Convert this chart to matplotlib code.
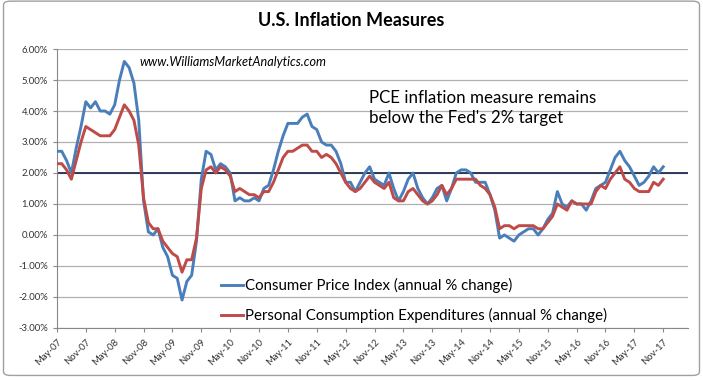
import pandas as pd
import matplotlib.pyplot as plt
from matplotlib.patches import FancyBboxPatch

plt.rcParams['font.family'] = ['Lato', 'DejaVu Sans']

# monthly year-over-year changes, May-07 .. Nov-17
cpi = [2.7, 2.7, 2.4, 2.0, 2.8, 3.5, 4.3, 4.1,
       4.3, 4.0, 4.0, 3.9, 4.2, 5.0, 5.6, 5.4, 4.9, 3.7, 1.1, 0.1,
       0.0, 0.2, -0.4, -0.7, -1.3, -1.4, -2.1, -1.5, -1.3, -0.2, 1.8, 2.7,
       2.6, 2.1, 2.3, 2.2, 2.0, 1.1, 1.2, 1.1, 1.1, 1.2, 1.1, 1.5,
       1.6, 2.1, 2.7, 3.2, 3.6, 3.6, 3.6, 3.8, 3.9, 3.5, 3.4, 3.0,
       2.9, 2.9, 2.7, 2.3, 1.7, 1.7, 1.4, 1.7, 2.0, 2.2, 1.8, 1.7,
       1.6, 2.0, 1.5, 1.1, 1.4, 1.8, 2.0, 1.5, 1.2, 1.0, 1.2, 1.5,
       1.6, 1.1, 1.5, 2.0, 2.1, 2.1, 2.0, 1.7, 1.7, 1.7, 1.3, 0.8,
       -0.1, 0.0, -0.1, -0.2, 0.0, 0.1, 0.2, 0.2, 0.0, 0.2, 0.5, 0.7,
       1.4, 1.0, 0.9, 1.1, 1.0, 1.0, 0.8, 1.1, 1.5, 1.6, 1.7, 2.1,
       2.5, 2.7, 2.4, 2.2, 1.9, 1.6, 1.7, 1.9, 2.2, 2.0, 2.2]
pce = [2.3, 2.3, 2.1, 1.8, 2.4, 3.0, 3.5, 3.4,
       3.3, 3.2, 3.2, 3.2, 3.4, 3.8, 4.2, 4.0, 3.7, 2.9, 1.2, 0.4,
       0.2, 0.2, -0.2, -0.4, -0.6, -0.7, -1.2, -0.8, -0.8, -0.1, 1.5, 2.1,
       2.2, 2.0, 2.2, 2.1, 1.9, 1.4, 1.5, 1.4, 1.3, 1.3, 1.2, 1.4,
       1.4, 1.7, 2.1, 2.5, 2.7, 2.7, 2.8, 2.9, 2.9, 2.7, 2.7, 2.5,
       2.6, 2.5, 2.3, 2.0, 1.7, 1.5, 1.4, 1.5, 1.7, 1.9, 1.7, 1.6,
       1.5, 1.7, 1.2, 1.1, 1.1, 1.4, 1.5, 1.3, 1.1, 1.0, 1.1, 1.3,
       1.6, 1.3, 1.5, 1.8, 1.8, 1.8, 1.8, 1.8, 1.6, 1.5, 1.3, 0.9,
       0.2, 0.3, 0.3, 0.2, 0.3, 0.3, 0.3, 0.3, 0.2, 0.2, 0.4, 0.6,
       1.0, 0.9, 0.8, 1.1, 1.0, 1.0, 1.0, 1.0, 1.4, 1.6, 1.5, 1.8,
       2.0, 2.2, 1.8, 1.7, 1.5, 1.4, 1.4, 1.4, 1.7, 1.6, 1.8]
months = pd.date_range('2007-05-01', periods=len(cpi), freq='MS')
month_labels = [m.strftime('%b-%y') for m in months]
target = 2.0

fig = plt.figure(figsize=(7.03, 3.80), dpi=100)
ax = fig.add_axes([0.081, 0.137, 0.898, 0.734])

x = list(range(len(cpi)))
ax.plot(x, cpi, color='#4a7ebb', lw=2.1, label='Consumer Price Index (annual % change)', zorder=3)
ax.plot(x, pce, color='#be4b48', lw=2.1, label='Personal Consumption Expenditures (annual % change)', zorder=3)
ax.axhline(target, color='#1f2f4f', lw=1.3, zorder=2)

ax.set_xlim(0, 131.2)
ax.set_ylim(-3, 6)
ax.set_yticks(range(-3, 7))
ax.set_yticklabels(['%.2f%%' % v for v in range(-3, 7)], fontsize=6.8)
ax.set_xticks(x[::6])
ax.set_xticklabels(month_labels[::6], rotation=45, ha='right', rotation_mode='anchor', fontsize=6.8)
ax.grid(axis='y', color='#b0b0b0', lw=0.9)
ax.set_axisbelow(True)
for s in ['top', 'right']:
    ax.spines[s].set_visible(False)
for s in ['left', 'bottom']:
    ax.spines[s].set_color('#888888')
ax.tick_params(colors='#888888', length=3, labelcolor='#333333')

fig.text(0.5, 0.945, 'U.S. Inflation Measures', ha='center', va='center', fontsize=13, fontweight='bold')
ax.text(0.131, 0.953, 'www.WilliamsMarketAnalytics.com', transform=ax.transAxes, fontsize=9.1,
        style='italic', va='center')
ax.text(0.494, 0.789, "PCE inflation measure remains\nbelow the Fed's 2% target", transform=ax.transAxes,
        fontsize=12.2, va='center', linespacing=1.3)

ax.legend(loc='lower left', bbox_to_anchor=(0.238, -0.03), frameon=False, fontsize=10.8,
          handlelength=1.5, handletextpad=0.1, labelspacing=0.95)

fig.patches.append(FancyBboxPatch((0.005, 0.012), 0.99, 0.985, boxstyle='round,pad=0,rounding_size=0.01',
                                  transform=fig.transFigure, fill=False, ec='#a0a0a0', lw=1))

fig.savefig('out.png', dpi=100)
